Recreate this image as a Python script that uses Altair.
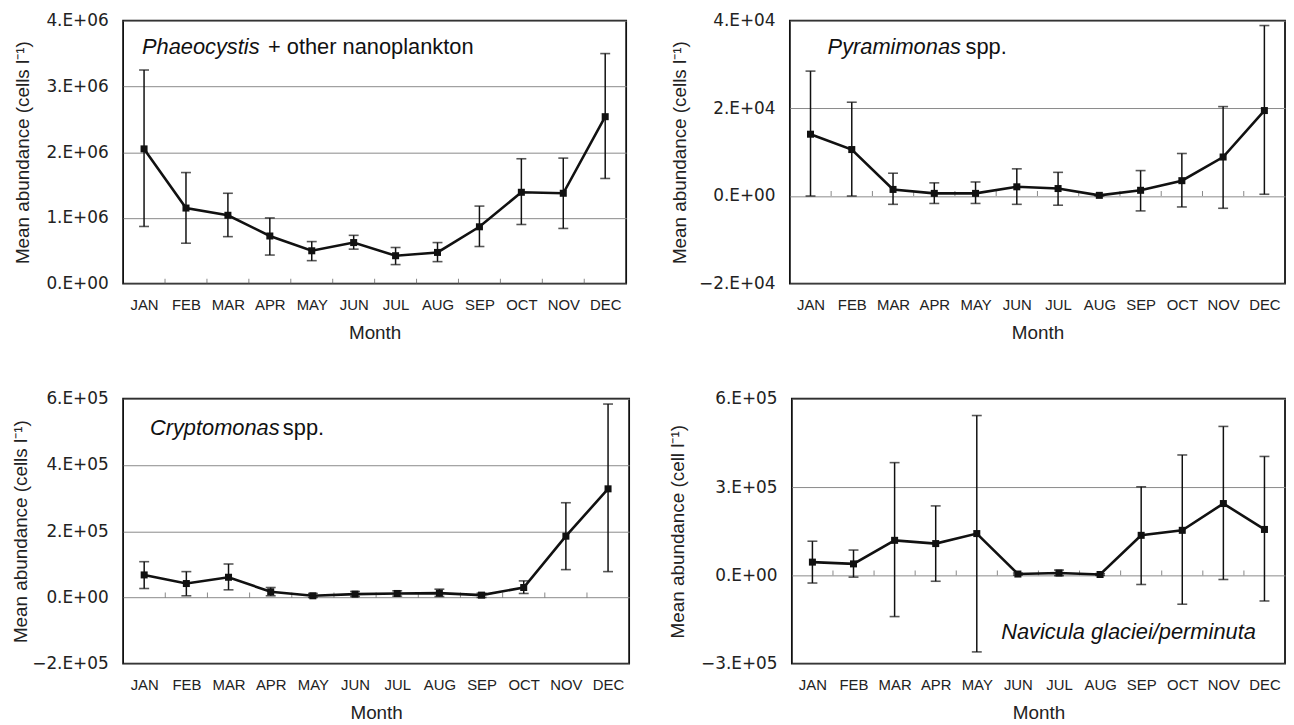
import altair as alt
import pandas as pd

MONTHS = ["JAN", "FEB", "MAR", "APR", "MAY", "JUN", "JUL", "AUG", "SEP", "OCT", "NOV", "DEC"]
MONTH_NUM = list(range(1, 13))
BOUNDARIES = [1.5, 2.5, 3.5, 4.5, 5.5, 6.5, 7.5, 8.5, 9.5, 10.5, 11.5]

# Phaeocystis + other nanoplankton
PHAEO_MEAN = [2.05e6, 1.15e6, 1.04e6, 0.725e6, 0.50e6, 0.625e6, 0.425e6, 0.475e6, 0.865e6, 1.39e6, 1.375e6, 2.54e6]
PHAEO_HI = [3.25e6, 1.69e6, 1.375e6, 1.00e6, 0.64e6, 0.735e6, 0.55e6, 0.625e6, 1.18e6, 1.90e6, 1.91e6, 3.50e6]
PHAEO_LO = [0.87e6, 0.615e6, 0.715e6, 0.435e6, 0.35e6, 0.525e6, 0.29e6, 0.335e6, 0.565e6, 0.90e6, 0.84e6, 1.60e6]
PHAEO_TICKS = [0, 1e6, 2e6, 3e6, 4e6]
PHAEO_LABELS = ["0.E+00", "1.E+06", "2.E+06", "3.E+06", "4.E+06"]

# Pyramimonas spp.
PYRA_MEAN = [14.1e3, 10.6e3, 1.5e3, 0.6e3, 0.6e3, 2.1e3, 1.7e3, 0.15e3, 1.3e3, 3.5e3, 8.9e3, 19.5e3]
PYRA_HI = [28.5e3, 21.4e3, 5.2e3, 3.0e3, 3.2e3, 6.2e3, 5.4e3, 0.3e3, 5.8e3, 9.7e3, 20.4e3, 38.9e3]
PYRA_LO = [0.0, 0.0, -1.9e3, -1.7e3, -1.7e3, -1.9e3, -2.1e3, 0.0, -3.4e3, -2.5e3, -2.8e3, 0.4e3]
PYRA_TICKS = [-2e4, 0, 2e4, 4e4]
PYRA_LABELS = ["\u22122.E+04", "0.E+00", "2.E+04", "4.E+04"]

# Cryptomonas spp.
CRYPTO_MEAN = [68e3, 42e3, 61e3, 17e3, 5e3, 10e3, 12e3, 13e3, 7e3, 30e3, 185e3, 328e3]
CRYPTO_HI = [108e3, 78e3, 101e3, 30e3, 12e3, 18e3, 20e3, 25e3, 13e3, 50e3, 286e3, 584e3]
CRYPTO_LO = [27e3, 5e3, 23e3, 5e3, 0.0, 3e3, 4e3, 3e3, 0.0, 12e3, 84e3, 78e3]
CRYPTO_TICKS = [-2e5, 0, 2e5, 4e5, 6e5]
CRYPTO_LABELS = ["\u22122.E+05", "0.E+00", "2.E+05", "4.E+05", "6.E+05"]

# Navicula glaciei/perminuta
NAVI_MEAN = [45e3, 39e3, 119e3, 108e3, 142e3, 4.5e3, 8e3, 3e3, 136e3, 153e3, 244e3, 156e3]
NAVI_HI = [116e3, 86e3, 383e3, 236e3, 543e3, 8e3, 18e3, 6e3, 301e3, 409e3, 506e3, 404e3]
NAVI_LO = [-26e3, -6e3, -140e3, -20e3, -260e3, 1e3, -1e3, 0.0, -31e3, -98e3, -14e3, -87e3]
NAVI_TICKS = [-3e5, 0, 3e5, 6e5]
NAVI_LABELS = ["\u22123.E+05", "0.E+00", "3.E+05", "6.E+05"]

NUM_FONT = "DejaVu Sans"
TXT_FONT = "Liberation Sans"
INK = "#111"


def label_expr(ticks, labels):
    expr = "''"
    for t, l in reversed(list(zip(ticks, labels))):
        expr = f"abs(datum.value - ({t})) < 1 ? '{l}' : {expr}"
    return expr


def panel(mean, hi, lo, ticks, labels, ytitle, notes, w, h, tpad):
    df = pd.DataFrame({"m": MONTH_NUM, "mean": mean, "hi": hi, "lo": lo})
    bdf = pd.DataFrame({"b": BOUNDARIES, "z": [0.0] * len(BOUNDARIES)})
    month_arr = "[" + ",".join(f"'{m}'" for m in MONTHS) + "]"
    xaxis = alt.Axis(values=MONTH_NUM, labelExpr=f"{month_arr}[datum.value - 1]", grid=False,
                     ticks=False, domain=False, title="Month", labelFont=TXT_FONT,
                     labelFontSize=15, labelColor="#222", labelPadding=14,
                     titleFont=TXT_FONT, titleFontSize=19, titleFontWeight="normal",
                     titleColor="#222", titlePadding=11, labelFlush=False)
    yaxis = alt.Axis(values=ticks, labelExpr=label_expr(ticks, labels), ticks=False,
                     domain=False, grid=True, gridColor="#8a8a8a", gridWidth=1,
                     title=ytitle, labelFont=NUM_FONT, labelFontSize=17,
                     labelColor="#222", labelPadding=15, titleFont=TXT_FONT,
                     titleFontSize=19, titleFontWeight="normal", titleColor="#222",
                     titlePadding=tpad, labelFlush=False)
    xs = alt.Scale(domain=[0.5, 12.5], nice=False, zero=False)
    ys = alt.Scale(domain=[ticks[0], ticks[-1]], nice=False, zero=False)
    X = lambda f: alt.X(f, scale=xs, axis=xaxis)
    Y = lambda f: alt.Y(f, scale=ys, axis=yaxis)
    base = alt.Chart(df)
    bticks = alt.Chart(bdf).mark_tick(orient="vertical", size=5, thickness=1,
                                      color="#555", yOffset=-2.5).encode(x=X("b:Q"), y=Y("z:Q"))
    bars = base.mark_rule(color=INK, strokeWidth=1.5).encode(x=X("m:Q"), y=Y("lo:Q"), y2="hi:Q")
    cap_hi = base.mark_tick(orient="horizontal", size=10, thickness=1.6, color=INK).encode(
        x=X("m:Q"), y=Y("hi:Q"))
    cap_lo = base.mark_tick(orient="horizontal", size=10, thickness=1.6, color=INK).encode(
        x=X("m:Q"), y=Y("lo:Q"))
    line = base.mark_line(color=INK, strokeWidth=2.6).encode(x=X("m:Q"), y=Y("mean:Q"))
    pts = base.mark_point(shape="square", filled=True, size=50, color=INK, opacity=1).encode(
        x=X("m:Q"), y=Y("mean:Q"))
    one = alt.Chart(pd.DataFrame({"k": [0]}))
    texts = []
    for txt, px, py, style in notes:
        texts.append(one.mark_text(align="left", baseline="middle", font=TXT_FONT,
                                   fontSize=22, fontStyle=style, color=INK).encode(
            x=alt.value(px), y=alt.value(py), text=alt.value(txt)))
    return alt.layer(bticks, bars, cap_hi, cap_lo, line, pts, *texts).properties(
        width=w, height=h, view=alt.ViewBackground(stroke=INK, strokeWidth=1.8, fill="white"))


p1 = panel(PHAEO_MEAN, PHAEO_HI, PHAEO_LO, PHAEO_TICKS, PHAEO_LABELS,
           "Mean abundance (cells l\u207b\u00b9)",
           [("Phaeocystis", 19, 27, "italic"), ("+ other nanoplankton", 146, 27, "normal")],
           507, 265, 14)
p2 = panel(PYRA_MEAN, PYRA_HI, PYRA_LO, PYRA_TICKS, PYRA_LABELS,
           "Mean abundance (cells l\u207b\u00b9)",
           [("Pyramimonas", 38, 27, "italic"), ("spp.", 177, 27, "normal")],
           499, 265, 9)
p3 = panel(CRYPTO_MEAN, CRYPTO_HI, CRYPTO_LO, CRYPTO_TICKS, CRYPTO_LABELS,
           "Mean abundance (cells l\u207b\u00b9)",
           [("Cryptomonas", 27, 30, "italic"), ("spp.", 161, 30, "normal")],
           510, 267, 1)
p4 = panel(NAVI_MEAN, NAVI_HI, NAVI_LO, NAVI_TICKS, NAVI_LABELS,
           "Mean abundance (cell l\u207b\u00b9)",
           [("Navicula glaciei/perminuta", 211, 235, "italic")],
           497, 267, 13)

row1 = alt.hconcat(p1, p2, spacing=43)
row2 = alt.hconcat(p3, p4, spacing=38)
chart = alt.vconcat(row1, row2, spacing=46).properties(
    padding={"left": 3, "top": 0, "right": 0, "bottom": 0}
).configure_view(stroke=INK, strokeWidth=1.8)

chart.save("out.html", embed_options={"renderer": "svg", "actions": False})
